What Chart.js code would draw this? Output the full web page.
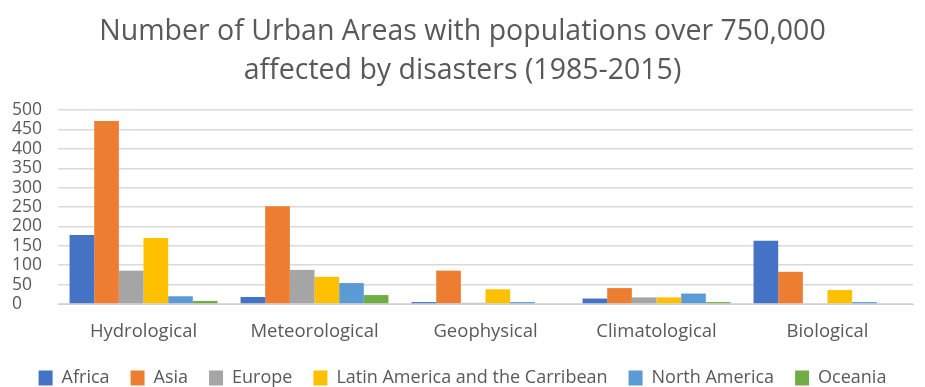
<!DOCTYPE html>
<html>
<head>
<meta charset="utf-8">
<script src="https://cdn.jsdelivr.net/npm/chart.js@4/dist/chart.umd.min.js"></script>
<style>
  html, body { margin: 0; padding: 0; background: #ffffff; }
  #wrap { width: 925px; height: 387px; }
</style>
</head>
<body>
<div id="wrap"><canvas id="chart" width="925" height="387"></canvas></div>
<script>
// Disaster categories on the x axis
const categories = ['Hydrological', 'Meteorological', 'Geophysical', 'Climatological', 'Biological'];

// Number of urban areas affected, per region
const africa       = [178, 18, 5, 14, 163];
const asia         = [472, 252, 86, 41, 83];
const europe       = [86, 88, 3, 17, 2];
const latinAmerica = [170, 70, 38, 17, 36];
const northAmerica = [20, 54, 5, 27, 5];
const oceania      = [8, 23, 0, 5, 0];

const seriesNames = ['Africa', 'Asia', 'Europe', 'Latin America and the Carribean', 'North America', 'Oceania'];
const seriesColors = ['#4472C4', '#ED7D31', '#A5A5A5', '#FFC000', '#5B9BD5', '#70AD47'];
const seriesValues = [africa, asia, europe, latinAmerica, northAmerica, oceania];

const yTicks = [0, 50, 100, 150, 200, 250, 300, 350, 400, 450, 500];

const FONT = "'Open Sans', 'Noto Sans', sans-serif";
const TEXT = '#595959';

new Chart(document.getElementById('chart'), {
  type: 'bar',
  data: {
    labels: categories,
    datasets: seriesNames.map((name, i) => ({
      label: name,
      data: seriesValues[i],
      backgroundColor: seriesColors[i],
      borderWidth: 0,
      categoryPercentage: 0.865,
      barPercentage: 1.0
    }))
  },
  options: {
    responsive: false,
    animation: false,
    layout: { padding: { left: 12, right: 12, top: 12, bottom: -10 } },
    plugins: {
      title: {
        display: true,
        text: ['Number of Urban Areas with populations over 750,000', 'affected by disasters (1985-2015)'],
        color: TEXT,
        font: { family: FONT, size: 28.5, weight: 'normal', lineHeight: 1.37 },
        padding: { top: 0, bottom: 20 }
      },
      legend: {
        display: true,
        position: 'bottom',
        labels: {
          color: TEXT,
          font: { family: FONT, size: 18 },
          boxWidth: 14,
          boxHeight: 15,
          padding: 21
        }
      },
      tooltip: { enabled: false }
    },
    scales: {
      x: {
        grid: { display: false },
        border: { display: true, color: '#d0d0d0', width: 1 },
        ticks: { color: TEXT, font: { family: FONT, size: 18.5 }, padding: 9 },
        afterFit: scale => { scale.height = 44; }
      },
      y: {
        min: 0,
        max: 500,
        afterBuildTicks: axis => { axis.ticks = yTicks.map(v => ({ value: v })); },
        grid: { color: '#d9d9d9', lineWidth: 1.5, drawTicks: false },
        border: { display: false },
        ticks: { color: TEXT, font: { family: FONT, size: 17.5, lineHeight: 1 }, crossAlign: 'far', padding: 8, autoSkip: false }
      }
    }
  }
});
</script>
</body>
</html>
